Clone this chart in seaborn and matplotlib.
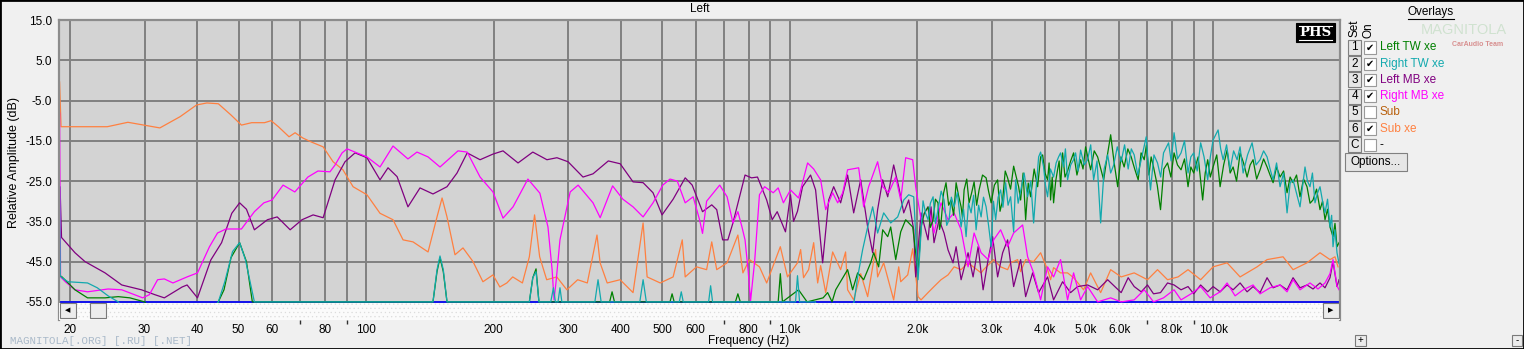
import pandas as pd
import matplotlib
matplotlib.use("Agg")
import matplotlib.pyplot as plt
import seaborn as sns
from matplotlib.patches import Rectangle
from matplotlib.lines import Line2D
from matplotlib.ticker import FixedLocator, FixedFormatter, NullFormatter

# ---- data (frequency in Hz, level in dB) ----
sub_xe = [(18.9, -0.4), (19.05, -11.5), (24.5, -11.5), (27.4, -10.4), (32.6, -11.8), (36.4, -9.0),
          (39.8, -6.1), (42.1, -5.6), (44.8, -5.8), (48.0, -8.6), (50.8, -11.1), (53.7, -10.5),
          (57.6, -10.5), (59.7, -10.0), (62.1, -11.5), (65.8, -14.0), (68.0, -13.0), (70.9, -14.3),
          (74.3, -15.3), (79.2, -16.5), (83.6, -20.2), (88.2, -22.2), (93.2, -26.4), (100.5, -28.4),
          (107.9, -33.0), (115.8, -34.6), (122.3, -39.6), (129.1, -40.1), (140.1, -42.6), (147.1, -33.9),
          (151.2, -29.2), (155.3, -33.9), (162.2, -43.3), (169.4, -41.6), (178.9, -45.0), (188.8, -50.0),
          (199.4, -48.3), (207, -51.3), (215, -50.3), (222, -48.8), (234, -50.3), (243, -43.8),
          (250, -33.4), (257, -43.8), (267, -49.5), (282, -48.8), (298, -52.0), (316, -49.5),
          (333, -50.3), (351, -38.4), (357, -45.3), (371, -50.3), (398, -49.5), (427, -52.7),
          (451, -35.4), (461, -48.8), (495, -50.3), (531, -48.8), (558, -39.6), (567, -48.8),
          (603, -46.3), (637, -47.0), (655, -40.1), (673, -47.0), (712, -45.3), (755, -38.4),
          (776, -47.8), (804, -44.5), (849, -46.3), (883, -50.3), (951, -41.3), (989, -48.8),
          (1044, -45.3), (1062, -42.0), (1079, -49.0), (1109, -47.0), (1140, -40.3), (1165, -50.3),
          (1184, -46.0), (1217, -52.7), (1264, -42.6), (1320, -47.0), (1356, -42.6), (1371, -52.0),
          (1417, -54.5), (1472, -48.0), (1529, -53.7), (1596, -42.0), (1614, -48.8), (1668, -45.3),
          (1761, -54.5), (1810, -46.3), (1830, -50.0), (1901, -48.3), (1953, -41.8), (2011, -53.7),
          (2044, -54.5), (2123, -52.7), (2193, -51.2), (2278, -49.5), (2367, -48.3), (2446, -46.3),
          (2541, -47.0), (2639, -45.3), (2833, -47.8), (2871, -47.0), (3033, -44.5), (3150, -46.3),
          (3272, -47.0), (3326, -45.3), (3455, -44.5), (3512, -47.5), (3609, -44.5), (3769, -45.0),
          (3915, -42.8), (4066, -47.0), (4133, -49.5), (4201, -46.5), (4364, -47.8), (4533, -47.8),
          (4684, -49.0), (4946, -52.0), (5138, -47.8), (5426, -52.7), (5730, -47.0), (6066, -48.8),
          (6512, -47.8), (7000, -49.5), (7392, -47.0), (7806, -49.5), (8266, -48.8), (8726, -47.0),
          (9346, -49.5), (10000, -46.3), (10791, -45.3), (11581, -48.8), (12701, -46.3), (13410, -44.5),
          (14627, -43.8), (15445, -47.0), (16661, -45.3), (17882, -42.8), (18880, -44.5), (19400, -43.8),
          (19720, -46.3)]

left_mb = [(18.95, -26.5), (19.1, -39.0), (20.55, -42.8), (21.7, -45.0), (24.2, -47.8), (26.5, -50.8),
           (29.5, -52.0), (31.7, -53.2), (33.4, -54.0), (36.8, -51.3), (37.8, -50.8), (40.0, -54.0),
           (43.0, -44.6), (45.6, -40.3), (48.2, -33.0), (50.3, -30.4), (52.2, -32.0), (54.5, -37.1),
           (58.5, -34.6), (61.7, -33.9), (66.2, -37.1), (70.6, -34.6), (75.0, -33.4), (79.2, -34.1),
           (84.5, -24.7), (89.2, -20.2), (94.2, -18.0), (100.5, -19.2), (107.9, -24.7), (112.7, -21.7),
           (118.4, -23.9), (125.6, -31.4), (134.1, -26.7), (143.9, -28.2), (155.3, -26.4), (164.0, -23.0),
           (173.3, -18.0), (185.9, -19.7), (199.4, -18.3), (210.6, -17.5), (228.5, -20.5), (247.6, -17.8),
           (267.4, -19.7), (282.3, -19.2), (299.9, -20.2), (325.3, -24.0), (343.5, -23.2), (373.3, -20.0),
           (398.2, -20.7), (427, -25.2), (451, -25.4), (476, -27.9), (500, -33.4), (531, -29.5),
           (567, -24.2), (589, -26.0), (623, -32.6), (655, -30.9), (673, -32.1), (695, -39.6),
           (715, -39.6), (735, -35.4), (785, -23.5), (813, -24.2), (840, -24.0), (883, -29.7),
           (910, -34.6), (935, -32.6), (978, -37.6), (1005, -28.4), (1022, -35.0), (1044, -32.5),
           (1073, -26.4), (1121, -23.5), (1152, -27.2), (1197, -45.3), (1237, -29.7), (1271, -26.4),
           (1320, -30.4), (1371, -23.5), (1417, -32.9), (1472, -24.7), (1529, -36.4), (1571, -42.8),
           (1614, -32.1), (1659, -24.7), (1705, -28.9), (1761, -21.0), (1810, -26.4), (1860, -32.9),
           (1911, -29.7), (1964, -37.1), (1985, -48.8), (2044, -32.9), (2123, -39.6), (2158, -31.4),
           (2193, -40.3), (2254, -34.6), (2316, -37.9), (2367, -42.1), (2432, -45.3), (2473, -41.3),
           (2541, -49.5), (2639, -42.8), (2712, -48.8), (2787, -41.3), (2864, -52.0), (2943, -44.5),
           (3016, -38.8), (3099, -48.8), (3185, -42.8), (3272, -39.6), (3381, -51.2), (3512, -44.5),
           (3609, -53.7), (3749, -47.8), (3873, -52.7), (4066, -48.8), (4201, -54.5), (4412, -50.0),
           (4608, -52.7), (4787, -51.2), (5055, -50.8), (5338, -52.0), (5637, -49.5), (6066, -52.7),
           (6302, -49.0), (6512, -51.2), (6765, -52.5), (7000, -50.8), (7233, -53.0), (7514, -52.7),
           (7806, -50.3), (8088, -50.8), (8401, -52.0), (8726, -51.2), (9000, -53.0), (9346, -50.8),
           (9710, -52.5), (10000, -51.2), (10388, -52.5), (10791, -50.8), (11149, -52.0), (11581, -50.3),
           (12030, -52.5), (12428, -51.2), (12910, -52.7), (13410, -49.0), (13857, -51.5), (14391, -50.8),
           (14949, -52.0), (15445, -49.0), (16040, -51.5), (16661, -50.8), (17214, -51.8), (17882, -50.3),
           (18375, -51.5), (18880, -49.0), (19191, -45.0), (19613, -51.2), (19830, -49.5)]

right_mb = [(18.9, -8.1), (19.0, -48.8), (19.5, -50.0), (20.55, -52.0), (22.0, -52.5), (24.6, -51.8),
            (26.5, -52.0), (28.9, -53.5), (29.7, -54.0), (30.8, -53.2), (32.2, -49.5), (33.4, -49.3),
            (35.0, -50.3), (37.8, -48.8), (40.0, -47.8), (42.7, -41.3), (44.6, -37.9), (46.7, -36.9),
            (50.8, -36.9), (54.5, -32.6), (57.4, -30.4), (60.0, -29.7), (63.7, -26.0), (67.9, -27.7),
            (72.9, -24.0), (77.0, -22.5), (82.2, -22.7), (84.5, -21.0), (87.8, -18.0), (90.2, -17.0),
            (94.2, -17.8), (100.5, -19.0), (107.9, -21.5), (115.8, -16.3), (125.6, -19.5), (131.9, -17.8),
            (140.1, -19.0), (149.5, -21.5), (164.9, -17.5), (173.3, -17.8), (185.9, -24.0), (199.4, -27.7),
            (210.6, -34.2), (222.4, -31.4), (241.1, -24.5), (257.3, -28.0), (268.9, -36.4), (275.0, -47.0),
            (277.9, -54.5), (281, -50.0), (287.0, -39.6), (303.4, -27.7), (316.8, -26.0), (343.5, -30.4),
            (357.1, -34.1), (382.1, -26.2), (404.0, -29.5), (427, -31.4), (451, -33.9), (476, -30.4),
            (502, -26.0), (522, -24.5), (543, -25.0), (567, -30.4), (592, -28.9), (613, -34.6),
            (623, -38.0), (637, -30.0), (684, -26.0), (712, -28.9), (735, -35.4), (755, -32.6),
            (772, -36.4), (785, -39.6), (798, -47.0), (809, -54.7), (827, -45.0), (849, -28.4),
            (873, -26.4), (915, -27.9), (940, -26.7), (967, -30.4), (1005, -27.2), (1050, -29.2),
            (1103, -20.5), (1140, -22.0), (1184, -24.7), (1217, -32.1), (1264, -27.9), (1299, -30.4),
            (1335, -27.9), (1371, -22.2), (1456, -21.7), (1496, -31.4), (1537, -26.4), (1614, -20.2),
            (1659, -26.4), (1714, -27.9), (1781, -24.0), (1830, -29.7), (1880, -19.2), (1953, -19.7),
            (1985, -26.4), (2044, -34.6), (2123, -31.4), (2193, -37.9), (2278, -30.4), (2367, -34.6),
            (2446, -32.9), (2541, -37.1), (2639, -46.3), (2727, -37.9), (2833, -42.8), (2943, -44.5),
            (3033, -39.6), (3150, -37.1), (3272, -41.3), (3381, -37.9), (3550, -35.9), (3648, -43.8),
            (3769, -47.8), (3915, -54.5), (4066, -46.3), (4201, -48.8), (4364, -44.5), (4533, -54.5),
            (4684, -47.8), (4866, -54.5), (5055, -51.2), (5338, -55.0), (5730, -54.0), (6066, -55.0),
            (6512, -54.5), (6877, -52.0), (7233, -55.0), (7638, -54.0), (8088, -52.0), (8401, -54.5),
            (8870, -53.0), (9346, -51.2), (9838, -54.0), (10388, -52.5), (10791, -50.3), (11270, -53.5),
            (11772, -52.0), (12428, -50.8), (12910, -53.0), (13632, -51.5), (14391, -50.8), (14949, -52.5),
            (15445, -49.5), (16040, -52.0), (16935, -50.3), (17690, -51.8), (18375, -50.3), (18880, -48.0),
            (19191, -44.5), (19613, -51.0), (19830, -52.0)]

left_tw = [(18.94, -48.5), (19.15, -48.8), (20.55, -52.0), (22.0, -54.0), (24.2, -54.0), (26.0, -53.7),
           (27.7, -54.0), (30.0, -55.0), (30.8, -56.5), (43.7, -56.5), (44.8, -55.0), (46.2, -52.0),
           (48.0, -44.0), (50.3, -40.3), (52.2, -45.0), (53.9, -55.0), (143.9, -55.0), (147.1, -47.5),
           (149.5, -44.0), (152.2, -47.5), (155.3, -55.0), (243, -55.0), (247.6, -49.0), (252, -46.8),
           (256, -55.0), (376, -55.0), (381, -52.5), (386, -55.0), (522, -55.0), (528, -53.0),
           (534, -55.0), (745, -55.0), (755, -53.0), (765, -55.0), (940, -55.0), (951, -48.0),
           (962, -55.0), (1050, -52.0), (1100, -55.0), (1200, -54.0), (1230, -52.7), (1260, -55.0),
           (1285, -52.0), (1371, -47.0), (1409, -52.0), (1448, -47.8), (1496, -49.5), (1554, -45.3),
           (1580, -42.8), (1623, -46.3), (1659, -37.1), (1705, -38.8), (1733, -36.4), (1781, -44.5),
           (1830, -37.6), (1880, -34.6), (1953, -36.4), (2011, -47.8), (2044, -36.4), (2080, -33.0),
           (2123, -31.4), (2150, -36.5), (2182, -34.6), (2210, -29.5), (2241, -30.4), (2260, -37.0),
           (2278, -35.4), (2310, -28.0), (2341, -25.4), (2375, -31.0), (2406, -29.7), (2440, -33.5),
           (2473, -25.4), (2505, -28.5), (2541, -31.4), (2560, -34.0), (2583, -27.2), (2620, -24.5),
           (2654, -30.4), (2690, -28.0), (2727, -25.2), (2765, -31.0), (2802, -27.2), (2855, -23.5),
           (2911, -24.2), (2950, -27.5), (2992, -30.4), (3045, -26.0), (3099, -24.7), (3140, -32.5),
           (3185, -29.7), (3230, -22.5), (3272, -24.2), (3325, -27.0), (3381, -21.3), (3430, -24.0),
           (3474, -26.4), (3512, -29.7), (3560, -23.0), (3609, -34.6), (3660, -25.5), (3708, -28.9),
           (3780, -22.0), (3852, -26.4), (3915, -19.0), (3958, -18.5), (4010, -23.0), (4066, -24.7),
           (4100, -20.5), (4133, -29.7), (4170, -24.0), (4201, -30.4), (4250, -25.0), (4293, -22.2),
           (4330, -20.0), (4364, -26.4), (4412, -18.0), (4470, -24.0), (4533, -22.5), (4610, -20.0),
           (4684, -18.0), (4770, -23.5), (4866, -19.7), (4930, -22.0), (5000, -16.5), (5070, -19.5),
           (5138, -22.2), (5240, -17.5), (5338, -19.0), (5430, -22.0), (5516, -24.7), (5620, -19.0),
           (5730, -13.5), (5840, -20.5), (5953, -26.4), (6060, -19.0), (6166, -21.5), (6290, -17.0),
           (6406, -19.0), (6530, -22.0), (6655, -24.7), (6760, -18.0), (6877, -19.7), (6960, -16.0),
           (7057, -23.5), (7140, -19.0), (7233, -21.5), (7380, -26.0), (7514, -32.1), (7650, -22.0),
           (7806, -20.5), (7950, -24.0), (8088, -18.0), (8240, -21.0), (8401, -22.2), (8560, -19.5),
           (8726, -26.4), (8860, -21.5), (9000, -23.0), (9220, -19.0), (9448, -29.7), (9580, -23.0),
           (9710, -19.7), (9850, -24.0), (10000, -21.5), (10200, -18.5), (10388, -26.4), (10590, -21.0),
           (10791, -17.3), (10970, -23.0), (11149, -21.5), (11360, -25.0), (11581, -18.0), (11800, -20.5),
           (12030, -24.0), (12230, -21.0), (12428, -19.7), (12670, -24.5), (12910, -22.2), (13160, -19.5),
           (13410, -21.5), (13630, -23.5), (13857, -25.4), (14120, -21.5), (14391, -24.0), (14670, -22.5),
           (14949, -27.9), (15200, -24.0), (15445, -25.4), (15740, -23.5), (16040, -28.9), (16350, -24.5),
           (16661, -26.4), (16940, -30.5), (17214, -29.7), (17550, -27.0), (17882, -32.1), (18130, -30.0),
           (18375, -34.6), (18630, -32.0), (18880, -36.4), (19191, -38.8), (19400, -35.5), (19613, -41.3),
           (19830, -40.3)]

right_tw = [(18.9, -26.4), (18.97, -48.5), (19.15, -49.0), (19.78, -50.0), (22.0, -50.3), (23.2, -51.5),
            (24.6, -53.5), (26.0, -55.0), (26.5, -56.5), (43.7, -56.5), (44.8, -55.0), (46.4, -50.0),
            (48.4, -42.5), (50.3, -40.3), (51.9, -44.5), (54.5, -55.0), (143.9, -55.0), (147.1, -47.0),
            (149.5, -43.6), (152.2, -47.0), (155.3, -55.0), (243, -55.0), (247.6, -49.0), (252, -47.5),
            (256, -55.0), (273, -55.0), (277, -51.5), (280, -55.0), (284, -55.0), (287, -51.5),
            (290, -55.0), (347, -55.0), (353, -49.5), (359, -55.0), (443, -55.0), (451, -49.5),
            (459, -55.0), (549, -55.0), (555, -52.5), (561, -55.0), (644, -55.0), (651, -51.0),
            (658, -55.0), (1033, -55.0), (1044, -48.5), (1056, -55.0), (1150, -55.0), (1165, -56.5),
            (1394, -56.5), (1420, -55.0), (1448, -48.8), (1488, -42.0), (1529, -36.4), (1571, -31.4),
            (1614, -37.9), (1668, -32.9), (1733, -35.4), (1800, -33.9), (1860, -29.7), (1911, -28.4),
            (1964, -28.9), (2011, -49.5), (2066, -29.9), (2095, -33.0), (2123, -34.6), (2150, -30.5),
            (2182, -28.9), (2210, -35.5), (2241, -32.1), (2280, -27.5), (2316, -29.7), (2350, -36.0),
            (2380, -34.6), (2410, -29.0), (2446, -31.4), (2490, -27.8), (2541, -36.4), (2575, -32.0),
            (2611, -38.8), (2645, -30.5), (2683, -32.9), (2720, -28.5), (2757, -37.1), (2795, -31.0),
            (2833, -33.9), (2870, -29.0), (2911, -31.4), (2950, -36.0), (2992, -41.3), (3030, -30.0),
            (3066, -34.6), (3108, -29.0), (3150, -27.2), (3190, -31.5), (3237, -25.4), (3280, -31.0),
            (3326, -28.9), (3381, -37.6), (3418, -24.7), (3465, -30.5), (3512, -27.5), (3580, -23.0),
            (3648, -28.9), (3710, -25.0), (3769, -35.4), (3820, -27.0), (3873, -19.0), (3915, -17.8),
            (3979, -21.5), (4020, -26.0), (4066, -28.9), (4130, -22.0), (4201, -24.0), (4260, -20.5),
            (4317, -19.0), (4364, -18.0), (4436, -21.5), (4480, -17.0), (4533, -24.7), (4610, -21.0),
            (4684, -19.7), (4735, -18.0), (4800, -22.5), (4866, -17.3), (4960, -21.0), (5055, -19.7),
            (5140, -16.0), (5223, -24.7), (5320, -20.0), (5426, -35.4), (5530, -22.0), (5637, -18.5),
            (5730, -23.0), (5825, -21.0), (5940, -16.5), (6066, -20.2), (6180, -16.0), (6302, -22.0),
            (6410, -17.0), (6512, -18.5), (6640, -23.5), (6765, -19.7), (6952, -14.0), (7030, -21.0),
            (7115, -27.2), (7250, -18.5), (7392, -20.5), (7520, -24.0), (7638, -18.0), (7849, -15.5),
            (7960, -20.0), (8088, -13.0), (8240, -19.5), (8401, -18.0), (8560, -15.0), (8726, -23.0),
            (8860, -19.0), (9000, -18.0), (9170, -22.5), (9346, -15.5), (9520, -19.0), (9710, -24.7),
            (9850, -19.0), (10000, -14.8), (10276, -12.3), (10420, -17.0), (10560, -19.7), (10760, -16.0),
            (10969, -22.2), (11180, -17.5), (11394, -19.7), (11580, -16.5), (11772, -23.0), (12060, -18.5),
            (12361, -15.5), (12630, -21.0), (12910, -19.7), (13160, -17.5), (13410, -19.0), (13630, -22.0),
            (13857, -24.7), (14120, -20.5), (14391, -26.4), (14670, -23.0), (14949, -32.9), (15200, -25.5),
            (15445, -24.7), (15740, -28.0), (16040, -31.4), (16481, -21.5), (16700, -25.0), (16935, -26.4),
            (17160, -23.0), (17402, -30.4), (17640, -28.0), (17882, -26.4), (18130, -30.0), (18375, -32.9),
            (18630, -29.5), (18880, -36.4), (19050, -33.5), (19191, -41.3), (19400, -37.1), (19613, -42.8),
            (19830, -45.5)]

curve_order = ["Sub xe", "Left MB xe", "Right MB xe", "Left TW xe", "Right TW xe"]
curve_data = [sub_xe, left_mb, right_mb, left_tw, right_tw]
curve_colors = ["#ff8040", "#800080", "#ff00ff", "#008000", "#12a9ae"]

x_major = [20, 30, 40, 50, 60, 80, 100, 200, 300, 400, 500, 600, 800,
           1000, 2000, 3000, 4000, 5000, 6000, 8000, 10000]
x_labels = ["20", "30", "40", "50", "60", "80", "100", "200", "300", "400", "500", "600", "800",
            "1.0k", "2.0k", "3.0k", "4.0k", "5.0k", "6.0k", "8.0k", "10.0k"]
x_minor = [70, 90, 700, 900, 7000, 9000]
y_ticks = [15, 5, -5, -15, -25, -35, -45, -55]
y_labels = ["15.0", "5.0", "-5.0", "-15.0", "-25.0", "-35.0", "-45.0", "-55.0"]

set_ids = ["1", "2", "3", "4", "5", "6", "C"]
set_names = ["Left TW xe", "Right TW xe", "Left MB xe", "Right MB xe", "Sub", "Sub xe", "-"]
set_colors = ["#008000", "#12a9ae", "#800080", "#ff00ff", "#b8600c", "#ff8040", "#000000"]
set_on = [True, True, True, True, False, True, False]

# long-form table for seaborn
rows = []
for name, pts in zip(curve_order, curve_data):
    for f, db in pts:
        rows.append((name, f, db))
df = pd.DataFrame(rows, columns=["curve", "freq", "db"])

plt.rcParams["font.family"] = ["Liberation Sans", "DejaVu Sans"]
plt.rcParams["hatch.linewidth"] = 0.4

W, H = 1524, 349
fig = plt.figure(figsize=(W / 100, H / 100), dpi=100, facecolor="#f0f0f0")
ax = fig.add_axes([59 / W, 1 - 320 / H, (1340 - 59) / W, 300 / H])
ax.set_facecolor("#d3d3d3")
ax.set_axisbelow("line")

sns.lineplot(data=df, x="freq", y="db", hue="curve", hue_order=curve_order,
             palette=dict(zip(curve_order, curve_colors)), estimator=None, sort=False,
             linewidth=0.9, legend=False, ax=ax)

ax.axhline(-55, color="#0000ff", lw=1.2, zorder=1.9)
ax.axhspan(-59.6, -55.35, facecolor="#fbfbfb", edgecolor="#dcdcdc", hatch="....", lw=0, zorder=3)

ax.set_xscale("log")
ax.set_xlim(18.84, 19935)
ax.set_ylim(-59.5, 15)
ax.xaxis.set_major_locator(FixedLocator(x_major))
ax.xaxis.set_major_formatter(FixedFormatter(x_labels))
ax.xaxis.set_minor_locator(FixedLocator(x_minor))
ax.xaxis.set_minor_formatter(NullFormatter())
ax.yaxis.set_major_locator(FixedLocator(y_ticks))
ax.yaxis.set_major_formatter(FixedFormatter(y_labels))
ax.grid(True, which="both", axis="x", color="#808080", lw=1.4)
ax.grid(True, which="major", axis="y", color="#808080", lw=1.4)
ax.tick_params(axis="x", which="major", length=0, pad=3, labelsize=8.5)
ax.tick_params(axis="x", which="minor", length=3, width=1, color="#303030", direction="out")
ax.tick_params(axis="y", length=0, pad=5, labelsize=8.5)
ax.set_xlabel("")
ax.set_ylabel("")
for side in ["left", "top", "right"]:
    ax.spines[side].set_color("#8c8c8c")
    ax.spines[side].set_linewidth(1.6)
ax.spines["bottom"].set_visible(False)


def fx(x):
    return x / W


def fy(y):
    return 1 - y / H


def box(x0, y0, x1, y1, face="#ececec", edge="#7a7a7a", lw=0.8):
    fig.add_artist(Rectangle((fx(x0), fy(y1)), (x1 - x0) / W, (y1 - y0) / H,
                             transform=fig.transFigure, facecolor=face, edgecolor=edge, lw=lw))


# texts around the plot
fig.text(fx(700), fy(9), "Left", ha="center", va="center", fontsize=8.5)
fig.text(fx(14), fy(163), "Relative Amplitude (dB)", rotation=90, ha="center", va="center", fontsize=9)
fig.text(fx(749), fy(341), "Frequency (Hz)", ha="center", va="center", fontsize=8.5)
fig.text(fx(10), fy(341), "MAGNITOLA[.ORG] [.RU] [.NET]", ha="left", va="center", fontsize=7.8,
         family="Liberation Mono", color="#a9b9c9")

# scroll bar buttons
box(60, 303, 76, 318)
fig.text(fx(68), fy(310.5), "◀", ha="center", va="center", fontsize=5, family="DejaVu Sans")
box(90, 303, 106, 318)
box(1323, 303, 1339, 318)
fig.text(fx(1331), fy(310.5), "▶", ha="center", va="center", fontsize=5, family="DejaVu Sans")
box(1355, 335, 1366, 346)
fig.text(fx(1360.5), fy(340.5), "+", ha="center", va="center", fontsize=7)
box(1512, 335, 1522, 346)
fig.text(fx(1517), fy(340), "-", ha="center", va="center", fontsize=7)

# PHS badge
box(1296, 23, 1335, 42, face="black", edge="black")
fig.text(fx(1315.5), fy(32.5), "PHS", ha="center", va="center", fontsize=9.5, color="white",
         family="DejaVu Serif", weight="bold")
for yy in (26, 39.5):
    fig.add_artist(Line2D([fx(1299), fx(1332)], [fy(yy), fy(yy)], transform=fig.transFigure,
                          color="white", lw=0.8))

# overlay panel
fig.text(fx(1431), fy(12), "Overlays", ha="center", va="center", fontsize=8.5)
fig.add_artist(Line2D([fx(1408), fx(1454)], [fy(18.5), fy(18.5)], transform=fig.transFigure,
                      color="black", lw=0.8))
fig.text(fx(1464), fy(30), "MAGNITOLA", ha="center", va="center", fontsize=10.5, color="#d0e2d0")
fig.text(fx(1478), fy(44), "CarAudio Team", ha="center", va="center", fontsize=5, color="#d89090",
         weight="bold")
fig.text(fx(1355), fy(28), "Set", rotation=90, ha="center", va="center", fontsize=8.5)
fig.text(fx(1369), fy(30), "On", rotation=90, ha="center", va="center", fontsize=8.5)
for i, (sid, name, col, on) in enumerate(zip(set_ids, set_names, set_colors, set_on)):
    yc = 47.5 + 16.2 * i
    box(1348, yc - 7.5, 1361, yc + 7.5, face="#e6e6e6", edge="#808080")
    fig.text(fx(1354.5), fy(yc), sid, ha="center", va="center", fontsize=8.5)
    box(1364, yc - 6, 1376, yc + 6, face="white", edge="#9a9a9a")
    if on:
        fig.text(fx(1370), fy(yc), "✔", ha="center", va="center", fontsize=7, family="DejaVu Sans")
    fig.text(fx(1380), fy(yc), name, ha="left", va="center", fontsize=8.5, color=col)
box(1345, 153, 1407, 171, face="#e6e6e6", edge="#808080")
fig.text(fx(1376), fy(162), "Options...", ha="center", va="center", fontsize=8.5)

# window frame
fig.add_artist(Rectangle((0, 0), 1, 1, transform=fig.transFigure, fill=False, edgecolor="black", lw=2))

fig.savefig("out.png", dpi=100, facecolor=fig.get_facecolor())
